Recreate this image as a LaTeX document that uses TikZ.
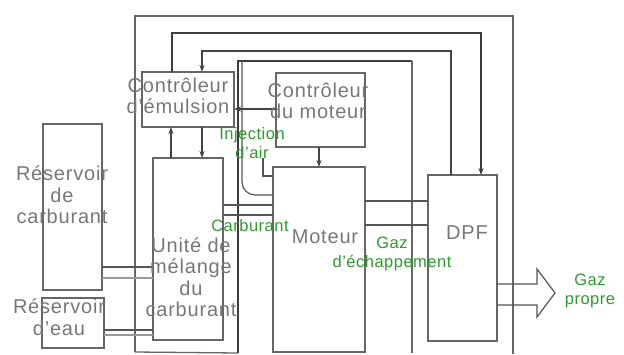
\documentclass[tikz,border=0pt]{standalone}
\usepackage{fontspec}
\setmainfont{Liberation Sans}
\newfontfamily\boxfont[LetterSpace=4]{Liberation Sans}
\newfontfamily\flowfont[LetterSpace=3]{Liberation Sans}
\usetikzlibrary{arrows.meta}
\definecolor{boxline}{HTML}{666666}
\definecolor{pipe}{HTML}{555555}
\definecolor{boxtext}{HTML}{777777}
\definecolor{flowtext}{HTML}{2E9A2E}
\tikzset{
  unit/.style={draw=boxline, line width=1.2pt, inner sep=0pt, outer sep=0pt, anchor=north west},
  boxlabel/.style={text=boxtext, align=center, inner sep=0pt, font=\boxfont\fontsize{20}{21.5}\selectfont},
  flowlabel/.style={text=flowtext, align=center, inner sep=0pt, font=\flowfont\fontsize{16.5}{19}\selectfont},
  frameline/.style={draw=boxline, line width=1.3pt},
  heavyline/.style={draw=pipe!70!black, line width=2pt},
  pipeline/.style={draw=pipe, line width=1.2pt},
  signal/.style={draw=pipe!80!black, line width=1.2pt, -{Stealth[length=7pt,width=5pt]}},
}
\begin{document}
\begin{tikzpicture}[x=1pt,y=-1pt]
\useasboundingbox (0,0) rectangle (624,354);

% functional blocks
\node[unit, minimum width=92pt, minimum height=55pt]  (emc) at (142,72)  {};
\node[unit, minimum width=89pt, minimum height=74pt]  (mc)  at (276,73)  {};
\node[unit, minimum width=59pt, minimum height=166pt] (rc)  at (43,124)  {};
\node[unit, minimum width=62pt, minimum height=50pt]  (re)  at (42,298)  {};
\node[unit, minimum width=70pt, minimum height=182pt] (um)  at (153,158) {};
\node[unit, minimum width=92pt, minimum height=185pt] (mot) at (273,167) {};
\node[unit, minimum width=69pt, minimum height=166pt] (dpf) at (428,175) {};

% enclosing frames
\coordinate (oBL) at (135,352);
\coordinate (oTL) at (135,16);
\coordinate (oTR) at (513,16);
\coordinate (oBR) at (513,354);
\coordinate (iBL) at (238,353);
\coordinate (iTL) at (238,61);
\coordinate (iTR) at (412,61);
\coordinate (iBR) at (412,353);
\draw[frameline] (oBL) -- (oTL) -- (oTR) -- (oBR);
\draw[frameline] (oBL) -- (iBL);
\draw[heavyline] (iBL) -- (iTL) -- (iTR);
\draw[frameline] (iTR) -- (iBR);

% air intake
\coordinate (airTop) at (242,61);
\draw[pipeline, rounded corners=13pt] (airTop) -- (242,195) -- (mot.west |- 0,195);
\coordinate (injTop) at (263,158);
\draw[pipeline] (injTop) -- (263,176) -- (mot.west |- 0,176);

% control signals
\draw[heavyline, -{Stealth[length=7pt,width=5pt]}, line width=1.6pt]
  (emc.north -| 172,0) -- (172,33) -- (481,33) -- (dpf.north -| 481,0);
\draw[signal] (dpf.north -| 451,0) -- (451,51) -- (202,51) -- (emc.north -| 202,0);
\draw[signal] (mc.west |- 0,109) -- (emc.east |- 0,109);
\draw[signal] (mc.south -| 319,0) -- (mot.north -| 319,0);
\draw[signal] (um.north -| 171,0) -- (emc.south -| 171,0);
\draw[signal] (emc.south -| 202,0) -- (um.north -| 202,0);

% fuel and gas pipes
\draw[pipeline] (um.east |- 0,205) -- (mot.west |- 0,205);
\draw[pipeline] (um.east |- 0,215) -- (mot.west |- 0,215);
\draw[pipeline] (rc.east |- 0,267) -- (um.west |- 0,267);
\draw[pipeline, draw=pipe!60] (rc.east |- 0,278) -- (um.west |- 0,278);
\draw[pipeline] (re.east |- 0,330) -- (um.west |- 0,330);
\draw[pipeline, draw=pipe!60] (re.east |- 0,335) -- (um.west |- 0,335);
\draw[pipeline] (mot.east |- 0,201) -- (dpf.west |- 0,201);
\draw[pipeline] (mot.east |- 0,225) -- (dpf.west |- 0,225);

% clean gas outlet
\draw[pipeline, line join=miter] (dpf.east |- 0,284) -- (537,284) -- (537,269) -- (555,293)
  -- (537,317) -- (537,305) -- (dpf.east |- 0,305);

% block labels
\node[boxlabel] (temc) at (178,96)  {Contrôleur\\d’émulsion};
\node[boxlabel] (tmc)  at (318,101) {Contrôleur\\du moteur};
\node[boxlabel] (trc)  at (62,195)  {Réservoir\\de\\carburant};
\node[boxlabel] (tre)  at (59,317)  {Réservoir\\d’eau};
\node[boxlabel] (tum)  at (191,277) {Unité de\\mélange\\du\\carburant};
\node[boxlabel] (tmot) at (325,237) {Moteur};
\node[boxlabel] (tdpf) at (467,233) {DPF};

% flow labels
\node[flowlabel] (tinj) at (252,143) {Injection\\d’air};
\node[flowlabel] (tcar) at (250,226) {Carburant};
\node[flowlabel] (tgaz) at (392,254) {Gaz\\d’échappement};
\node[flowlabel] (tpro) at (590,291) {Gaz\\propre};
\end{tikzpicture}
\end{document}
